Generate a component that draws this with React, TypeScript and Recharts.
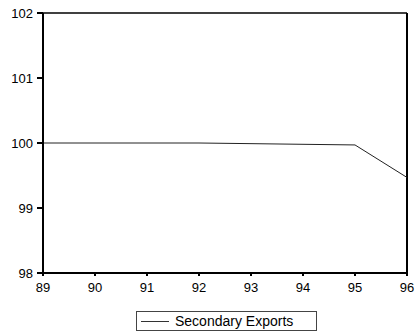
import React from "react";
import { LineChart, Line, XAxis, YAxis, ReferenceLine } from "recharts";

const years = [89, 90, 91, 92, 93, 94, 95, 96];
const secondaryExports = [100.0, 100.0, 100.0, 100.0, 99.99, 99.98, 99.97, 99.47];
const yTicks = [98, 99, 100, 101, 102];

const data = years.map((y, i) => ({ year: y, value: secondaryExports[i] }));

const font = "'Liberation Sans', Arial, sans-serif";

const LegendBox = () => (
  <div
    style={{
      position: "absolute",
      left: 136,
      top: 311,
      width: 181,
      height: 20,
      border: "1px solid #444",
      boxSizing: "border-box",
      display: "flex",
      alignItems: "center",
      fontFamily: font,
      fontSize: 14,
      color: "#000",
      whiteSpace: "nowrap",
      overflow: "hidden",
    }}
  >
    <div style={{ width: 28, height: 1, background: "#333", marginLeft: 4, marginRight: 6, flexShrink: 0 }} />
    <span>Secondary Exports</span>
  </div>
);

export default function App() {
  return (
    <div style={{ position: "absolute", left: 0, top: 0, width: 415, height: 333, background: "#fff" }}>
      <LineChart width={415} height={333} data={data} margin={{ top: 13, right: 8, bottom: 0, left: 0 }}>
        <XAxis
          dataKey="year"
          type="number"
          domain={[89, 96]}
          ticks={years}
          height={60}
          stroke="#000"
          strokeWidth={2}
          tickSize={3}
          tickMargin={7}
          tick={{ fill: "#000", fontSize: 13, fontFamily: font }}
        />
        <YAxis
          type="number"
          domain={[98, 102]}
          ticks={yTicks}
          width={43}
          stroke="#000"
          strokeWidth={2}
          tickSize={6}
          tickMargin={4}
          tick={{ fill: "#000", fontSize: 13, fontFamily: font }}
        />
        <ReferenceLine y={102} stroke="#000" strokeWidth={1.5} />
        <ReferenceLine x={96} stroke="#000" strokeWidth={2} />
        <Line
          type="linear"
          dataKey="value"
          stroke="#222"
          strokeWidth={1}
          dot={false}
          isAnimationActive={false}
        />
      </LineChart>
      <LegendBox />
    </div>
  );
}
